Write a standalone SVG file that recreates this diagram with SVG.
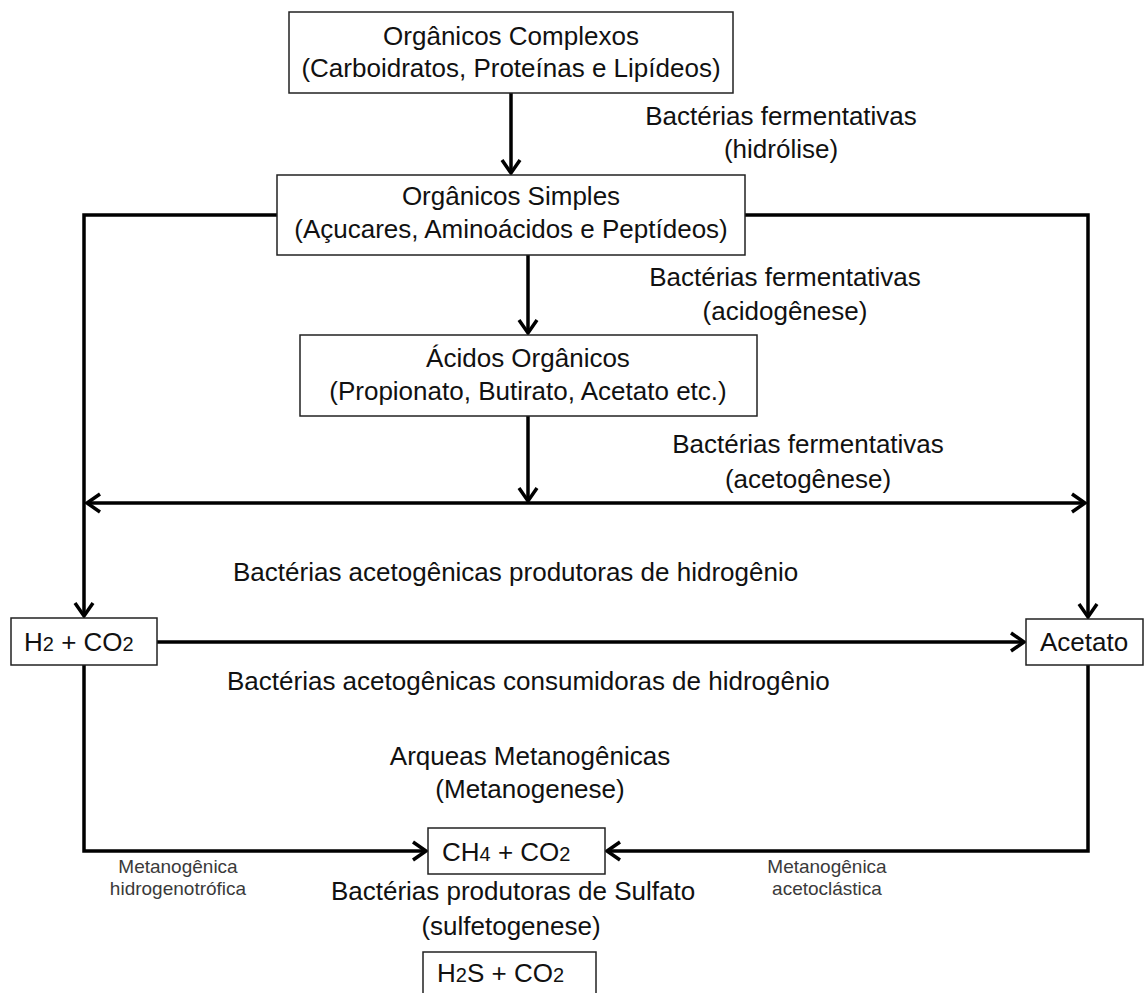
<svg xmlns="http://www.w3.org/2000/svg" width="1146" height="993" viewBox="0 0 1146 993">
<style>
.box{fill:#fff;stroke:#222;stroke-width:1.5}
.t{font-family:"Liberation Sans",Arial,sans-serif;font-size:26px;fill:#111}
.c{text-anchor:middle}
.s{font-family:"Liberation Sans",Arial,sans-serif;font-size:19px;fill:#3a3a3a;text-anchor:middle}
.sub{font-size:20px}
.ln{fill:none;stroke:#000;stroke-width:3.5}
</style>
<defs>
<marker id="ah" markerUnits="userSpaceOnUse" viewBox="-16 -12 20 24" refX="0" refY="0" markerWidth="20" markerHeight="24" orient="auto-start-reverse">
<path d="M-13,-9 L0,0 L-13,9" fill="none" stroke="#000" stroke-width="3.5"/>
</marker>
</defs>
<rect width="1146" height="993" fill="#fff"/>
<g id="connectors">
<line class="ln" x1="511" y1="93" x2="511" y2="173" marker-end="url(#ah)"/>
<line class="ln" x1="528" y1="255" x2="528" y2="333" marker-end="url(#ah)"/>
<line class="ln" x1="528" y1="416" x2="528" y2="501" marker-end="url(#ah)"/>
<polyline class="ln" points="277,215 84,215 84,616" marker-end="url(#ah)"/>
<polyline class="ln" points="745,215 1088,215 1088,617" marker-end="url(#ah)"/>
<line class="ln" x1="87" y1="503" x2="1085" y2="503" marker-start="url(#ah)" marker-end="url(#ah)"/>
<line class="ln" x1="157" y1="642" x2="1024" y2="642" marker-end="url(#ah)"/>
<polyline class="ln" points="84,665 84,851 426,851" marker-end="url(#ah)"/>
<polyline class="ln" points="1088,665 1088,851 607,851" marker-end="url(#ah)"/>
</g>
<g id="n1">
<rect class="box" x="289" y="12" width="444" height="81"/>
<text class="t c" x="511" y="45">Orgânicos Complexos</text>
<text class="t c" x="511" y="77">(Carboidratos, Proteínas e Lipídeos)</text>
</g>
<g id="n2">
<rect class="box" x="277" y="175" width="468" height="80"/>
<text class="t c" x="511" y="205">Orgânicos Simples</text>
<text class="t c" x="511" y="238">(Açucares, Aminoácidos e Peptídeos)</text>
</g>
<g id="n3">
<rect class="box" x="300" y="335" width="457" height="81"/>
<text class="t c" x="528" y="367">Ácidos Orgânicos</text>
<text class="t c" x="528" y="400">(Propionato, Butirato, Acetato etc.)</text>
</g>
<g id="n4">
<rect class="box" x="11" y="618" width="146" height="47"/>
<text class="t" x="24" y="651">H<tspan class="sub">2</tspan> + CO<tspan class="sub">2</tspan></text>
</g>
<g id="n5">
<rect class="box" x="1026" y="619" width="117" height="46"/>
<text class="t" x="1040" y="651">Acetato</text>
</g>
<g id="n6">
<rect class="box" x="428" y="828" width="177" height="46"/>
<text class="t" x="442" y="861">CH<tspan class="sub">4</tspan> + CO<tspan class="sub">2</tspan></text>
</g>
<g id="n7">
<rect class="box" x="423" y="952" width="173" height="50"/>
<text class="t" x="437" y="982">H<tspan class="sub">2</tspan>S + CO<tspan class="sub">2</tspan></text>
</g>
<g id="labels">
<text class="t c" x="781" y="125">Bactérias fermentativas</text>
<text class="t c" x="781" y="158">(hidrólise)</text>
<text class="t c" x="785" y="286">Bactérias fermentativas</text>
<text class="t c" x="785" y="320">(acidogênese)</text>
<text class="t c" x="808" y="453">Bactérias fermentativas</text>
<text class="t c" x="808" y="488">(acetogênese)</text>
<text class="t" x="233" y="581">Bactérias acetogênicas produtoras de hidrogênio</text>
<text class="t" x="227" y="690">Bactérias acetogênicas consumidoras de hidrogênio</text>
<text class="t c" x="530" y="765">Arqueas Metanogênicas</text>
<text class="t c" x="530" y="798">(Metanogenese)</text>
<text class="t c" x="513" y="900">Bactérias produtoras de Sulfato</text>
<text class="t c" x="511" y="935">(sulfetogenese)</text>
<text class="s" x="178" y="873">Metanogênica</text>
<text class="s" x="178" y="895">hidrogenotrófica</text>
<text class="s" x="827" y="873">Metanogênica</text>
<text class="s" x="827" y="895">acetoclástica</text>
</g>
</svg>
